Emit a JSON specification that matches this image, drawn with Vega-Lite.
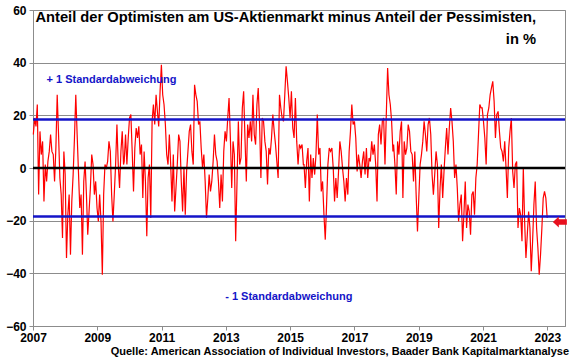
{
  "$schema": "https://vega.github.io/schema/vega-lite/v6.json",
  "width": 532,
  "height": 316,
  "autosize": "none",
  "padding": {"left": 33, "top": 10, "right": 15, "bottom": 33},
  "background": "white",
  "config": {
    "font": "Liberation Sans",
    "view": {"stroke": "#8c8c8c", "strokeWidth": 1}
  },
  "datasets": {
    "spread": [
      {"t":2007.010,"v":12.7},{"t":2007.052,"v":19.0},{"t":2007.093,"v":15.8},{"t":2007.134,"v":24.1},{"t":2007.175,"v":-10.1},{"t":2007.217,"v":13.9},{"t":2007.258,"v":5.1},{"t":2007.299,"v":10.1},{"t":2007.341,"v":-12.7},{"t":2007.382,"v":1.3},{"t":2007.423,"v":-5.1},{"t":2007.464,"v":2.5},{"t":2007.506,"v":6.3},{"t":2007.547,"v":12.7},{"t":2007.588,"v":6.3},{"t":2007.630,"v":5.1},{"t":2007.671,"v":-5.1},{"t":2007.712,"v":7.6},{"t":2007.753,"v":27.8},{"t":2007.795,"v":12.7},{"t":2007.836,"v":-3.8},{"t":2007.877,"v":-10.1},{"t":2007.918,"v":-26.6},{"t":2007.960,"v":6.3},{"t":2008.001,"v":-2.5},{"t":2008.042,"v":-34.2},{"t":2008.084,"v":-17.7},{"t":2008.125,"v":-10.1},{"t":2008.166,"v":-32.9},{"t":2008.207,"v":-12.7},{"t":2008.249,"v":-2.5},{"t":2008.290,"v":11.4},{"t":2008.331,"v":27.8},{"t":2008.373,"v":12.7},{"t":2008.414,"v":-1.3},{"t":2008.455,"v":-15.2},{"t":2008.496,"v":-10.1},{"t":2008.538,"v":-32.9},{"t":2008.579,"v":-5.1},{"t":2008.620,"v":2.5},{"t":2008.662,"v":-10.1},{"t":2008.703,"v":-25.3},{"t":2008.744,"v":-16.5},{"t":2008.785,"v":-7.6},{"t":2008.827,"v":5.1},{"t":2008.868,"v":1.3},{"t":2008.909,"v":-10.1},{"t":2008.950,"v":-5.1},{"t":2008.992,"v":-15.2},{"t":2009.033,"v":-20.3},{"t":2009.074,"v":-10.1},{"t":2009.116,"v":-20.3},{"t":2009.157,"v":-40.5},{"t":2009.198,"v":-10.1},{"t":2009.239,"v":1.3},{"t":2009.281,"v":0},{"t":2009.322,"v":2.5},{"t":2009.363,"v":10.1},{"t":2009.405,"v":6.3},{"t":2009.446,"v":-10.1},{"t":2009.487,"v":-20.3},{"t":2009.528,"v":-10.1},{"t":2009.570,"v":1.3},{"t":2009.611,"v":16.5},{"t":2009.652,"v":1.3},{"t":2009.693,"v":-7.6},{"t":2009.735,"v":6.3},{"t":2009.776,"v":13.9},{"t":2009.817,"v":1.3},
      {"t":2009.838,"v":2.5},{"t":2009.879,"v":12.7},{"t":2009.921,"v":1.3},{"t":2009.962,"v":11.4},{"t":2010.003,"v":19.0},{"t":2010.044,"v":20.3},{"t":2010.086,"v":6.3},{"t":2010.127,"v":-8.9},{"t":2010.168,"v":7.6},{"t":2010.210,"v":15.2},{"t":2010.251,"v":11.4},{"t":2010.292,"v":15.8},{"t":2010.333,"v":5.1},{"t":2010.375,"v":8.9},{"t":2010.416,"v":-11.4},{"t":2010.457,"v":6.3},{"t":2010.498,"v":-5.1},{"t":2010.540,"v":-25.9},{"t":2010.581,"v":-3.8},{"t":2010.622,"v":1.3},{"t":2010.664,"v":-19.0},{"t":2010.705,"v":17.7},{"t":2010.746,"v":24.1},{"t":2010.787,"v":16.5},{"t":2010.829,"v":27.8},{"t":2010.870,"v":21.5},{"t":2010.911,"v":15.8},{"t":2010.953,"v":29.1},{"t":2010.994,"v":39.2},{"t":2011.035,"v":27.8},{"t":2011.076,"v":24.1},{"t":2011.118,"v":16.5},{"t":2011.159,"v":5.1},{"t":2011.200,"v":1.3},{"t":2011.242,"v":12.7},{"t":2011.283,"v":1.3},{"t":2011.324,"v":-12.7},{"t":2011.365,"v":5.1},{"t":2011.407,"v":-16.5},{"t":2011.448,"v":-7.6},{"t":2011.489,"v":1.3},{"t":2011.531,"v":12.7},{"t":2011.572,"v":10.1},{"t":2011.613,"v":-5.1},{"t":2011.654,"v":-16.5},{"t":2011.696,"v":0},{"t":2011.737,"v":-17.7},{"t":2011.778,"v":-1.3},{"t":2011.820,"v":6.3},{"t":2011.861,"v":13.9},{"t":2011.902,"v":16.5},{"t":2011.943,"v":6.3},{"t":2011.985,"v":1.3},{"t":2012.026,"v":31.6},{"t":2012.067,"v":27.8},{"t":2012.108,"v":25.3},{"t":2012.150,"v":16.5},{"t":2012.191,"v":17.7},{"t":2012.232,"v":7.6},{"t":2012.274,"v":0},{"t":2012.315,"v":5.1},{"t":2012.356,"v":-5.1},{"t":2012.397,"v":-19.0},{"t":2012.439,"v":-11.4},{"t":2012.480,"v":-2.5},{"t":2012.521,"v":-8.9},{"t":2012.562,"v":-5.1},{"t":2012.604,"v":2.5},
      {"t":2012.645,"v":12.7},{"t":2012.686,"v":5.1},{"t":2012.728,"v":2.5},{"t":2012.769,"v":-5.1},{"t":2012.810,"v":-15.2},{"t":2012.851,"v":-2.5},{"t":2012.893,"v":-12.7},{"t":2012.934,"v":6.3},{"t":2012.975,"v":13.9},{"t":2013.017,"v":10.1},{"t":2013.058,"v":19.0},{"t":2013.099,"v":26.6},{"t":2013.140,"v":11.4},{"t":2013.182,"v":-7.6},{"t":2013.223,"v":10.1},{"t":2013.264,"v":5.1},{"t":2013.305,"v":-27.8},{"t":2013.347,"v":-5.1},{"t":2013.388,"v":17.7},{"t":2013.429,"v":1.3},{"t":2013.471,"v":3.8},{"t":2013.512,"v":22.8},{"t":2013.553,"v":29.1},{"t":2013.594,"v":11.4},{"t":2013.636,"v":-5.1},{"t":2013.677,"v":16.5},{"t":2013.718,"v":11.4},{"t":2013.760,"v":17.7},{"t":2013.801,"v":10.1},{"t":2013.842,"v":27.8},{"t":2013.883,"v":12.7},{"t":2013.925,"v":8.9},{"t":2013.966,"v":24.1},{"t":2014.007,"v":30.4},{"t":2014.049,"v":16.5},{"t":2014.090,"v":-3.8},{"t":2014.131,"v":19.0},{"t":2014.172,"v":17.7},{"t":2014.214,"v":10.1},{"t":2014.255,"v":6.3},{"t":2014.296,"v":-6.3},{"t":2014.337,"v":7.6},{"t":2014.379,"v":5.1},{"t":2014.420,"v":11.4},{"t":2014.461,"v":20.3},{"t":2014.503,"v":13.9},{"t":2014.544,"v":8.9},{"t":2014.585,"v":2.5},{"t":2014.626,"v":-3.8},{"t":2014.668,"v":27.8},{"t":2014.709,"v":22.8},{"t":2014.750,"v":19.0},{"t":2014.792,"v":17.7},{"t":2014.833,"v":27.8},{"t":2014.874,"v":38.6},{"t":2014.915,"v":32.9},{"t":2014.957,"v":26.6},{"t":2014.998,"v":19.0},{"t":2015.039,"v":29.1},{"t":2015.081,"v":15.2},{"t":2015.122,"v":11.4},{"t":2015.163,"v":26.6},{"t":2015.204,"v":10.1},{"t":2015.246,"v":1.3},{"t":2015.287,"v":8.9},{"t":2015.328,"v":7.6},{"t":2015.370,"v":8.9},{"t":2015.411,"v":1.3},
      {"t":2015.431,"v":1.3},{"t":2015.473,"v":-7.6},{"t":2015.514,"v":2.5},{"t":2015.555,"v":7.6},{"t":2015.597,"v":-12.7},{"t":2015.638,"v":5.1},{"t":2015.679,"v":-3.8},{"t":2015.720,"v":3.8},{"t":2015.762,"v":-2.5},{"t":2015.803,"v":5.1},{"t":2015.844,"v":20.3},{"t":2015.886,"v":5.1},{"t":2015.927,"v":7.6},{"t":2015.968,"v":-8.9},{"t":2016.009,"v":-5.1},{"t":2016.051,"v":-17.7},{"t":2016.092,"v":-27.2},{"t":2016.133,"v":-13.9},{"t":2016.174,"v":1.3},{"t":2016.216,"v":7.6},{"t":2016.257,"v":6.3},{"t":2016.298,"v":7.6},{"t":2016.340,"v":0},{"t":2016.381,"v":-12.7},{"t":2016.422,"v":-3.8},{"t":2016.463,"v":-11.4},{"t":2016.505,"v":-1.3},{"t":2016.546,"v":10.1},{"t":2016.587,"v":6.3},{"t":2016.629,"v":0},{"t":2016.670,"v":-5.1},{"t":2016.711,"v":-12.7},{"t":2016.752,"v":-3.8},{"t":2016.794,"v":-10.1},{"t":2016.835,"v":6.3},{"t":2016.876,"v":13.9},{"t":2016.918,"v":24.1},{"t":2016.959,"v":16.5},{"t":2017.000,"v":17.7},{"t":2017.041,"v":11.4},{"t":2017.083,"v":-1.3},{"t":2017.124,"v":5.1},{"t":2017.165,"v":1.3},{"t":2017.207,"v":-3.8},{"t":2017.248,"v":2.5},{"t":2017.289,"v":6.3},{"t":2017.330,"v":-2.5},{"t":2017.372,"v":7.6},{"t":2017.413,"v":-3.8},{"t":2017.454,"v":3.8},{"t":2017.495,"v":2.5},{"t":2017.537,"v":10.1},{"t":2017.578,"v":5.1},{"t":2017.619,"v":8.9},{"t":2017.661,"v":1.3},{"t":2017.702,"v":-12.7},{"t":2017.743,"v":12.7},{"t":2017.784,"v":16.5},{"t":2017.826,"v":8.9},{"t":2017.867,"v":17.7},{"t":2017.908,"v":19.0},{"t":2017.950,"v":1.3},{"t":2017.991,"v":20.3},{"t":2018.032,"v":38.0},{"t":2018.073,"v":27.8},{"t":2018.115,"v":24.1},{"t":2018.156,"v":17.7},{"t":2018.197,"v":6.3},
      {"t":2018.218,"v":8.9},{"t":2018.259,"v":1.3},{"t":2018.300,"v":-10.1},{"t":2018.342,"v":10.1},{"t":2018.383,"v":5.1},{"t":2018.424,"v":13.9},{"t":2018.465,"v":17.7},{"t":2018.507,"v":-11.4},{"t":2018.548,"v":10.1},{"t":2018.589,"v":5.1},{"t":2018.631,"v":7.6},{"t":2018.672,"v":16.5},{"t":2018.713,"v":13.9},{"t":2018.754,"v":6.3},{"t":2018.796,"v":5.1},{"t":2018.837,"v":-5.1},{"t":2018.878,"v":6.3},{"t":2018.919,"v":-10.1},{"t":2018.961,"v":-24.1},{"t":2019.002,"v":-11.4},{"t":2019.043,"v":1.3},{"t":2019.085,"v":5.1},{"t":2019.126,"v":10.1},{"t":2019.167,"v":17.7},{"t":2019.208,"v":12.7},{"t":2019.250,"v":6.3},{"t":2019.291,"v":16.5},{"t":2019.332,"v":19.0},{"t":2019.374,"v":12.7},{"t":2019.415,"v":-2.5},{"t":2019.456,"v":-10.1},{"t":2019.497,"v":-2.5},{"t":2019.539,"v":6.3},{"t":2019.580,"v":1.3},{"t":2019.621,"v":-22.8},{"t":2019.663,"v":-7.6},{"t":2019.704,"v":1.3},{"t":2019.745,"v":-11.4},{"t":2019.786,"v":-1.3},{"t":2019.828,"v":7.6},{"t":2019.869,"v":15.2},{"t":2019.910,"v":5.1},{"t":2019.951,"v":15.2},{"t":2019.993,"v":22.8},{"t":2020.034,"v":17.7},{"t":2020.075,"v":10.1},{"t":2020.116,"v":-3.8},{"t":2020.158,"v":1.3},{"t":2020.199,"v":-7.6},{"t":2020.240,"v":-20.3},{"t":2020.281,"v":-13.9},{"t":2020.323,"v":-10.1},{"t":2020.364,"v":-27.8},{"t":2020.405,"v":-17.7},{"t":2020.447,"v":-5.1},{"t":2020.488,"v":-22.8},{"t":2020.529,"v":-13.9},{"t":2020.570,"v":-16.5},{"t":2020.612,"v":-25.3},{"t":2020.653,"v":-10.1},{"t":2020.694,"v":-8.9},{"t":2020.735,"v":-17.7},{"t":2020.777,"v":-3.8},{"t":2020.818,"v":1.3},{"t":2020.859,"v":12.7},{"t":2020.900,"v":24.1},{"t":2020.942,"v":22.8},
      {"t":2020.973,"v":22.8},{"t":2021.014,"v":17.7},{"t":2021.056,"v":11.4},{"t":2021.097,"v":1.3},{"t":2021.138,"v":20.3},{"t":2021.180,"v":22.8},{"t":2021.221,"v":27.8},{"t":2021.262,"v":30.4},{"t":2021.303,"v":32.9},{"t":2021.345,"v":25.3},{"t":2021.386,"v":11.4},{"t":2021.427,"v":20.3},{"t":2021.469,"v":21.5},{"t":2021.510,"v":13.9},{"t":2021.551,"v":7.6},{"t":2021.592,"v":6.3},{"t":2021.634,"v":2.5},{"t":2021.675,"v":10.1},{"t":2021.716,"v":0},{"t":2021.757,"v":-11.4},{"t":2021.799,"v":7.6},{"t":2021.840,"v":13.9},{"t":2021.881,"v":19.0},{"t":2021.923,"v":-1.3},{"t":2021.964,"v":-7.6},{"t":2022.005,"v":1.3},{"t":2022.046,"v":2.5},{"t":2022.088,"v":-22.8},{"t":2022.129,"v":-15.2},{"t":2022.170,"v":-17.7},{"t":2022.212,"v":-27.8},{"t":2022.253,"v":0},{"t":2022.294,"v":-20.3},{"t":2022.335,"v":-34.2},{"t":2022.377,"v":-25.3},{"t":2022.418,"v":-16.5},{"t":2022.459,"v":-22.8},{"t":2022.500,"v":-39.2},{"t":2022.542,"v":-27.8},{"t":2022.583,"v":-13.9},{"t":2022.624,"v":-5.1},{"t":2022.666,"v":-22.8},{"t":2022.707,"v":-30.4},{"t":2022.748,"v":-40.5},{"t":2022.789,"v":-32.9},{"t":2022.831,"v":-22.8},{"t":2022.872,"v":-11.4},{"t":2022.913,"v":-8.9},{"t":2022.954,"v":-11.4},{"t":2022.996,"v":-19.0}
    ]
  },
  "layer": [
    {
      "data": {"name": "spread"},
      "mark": {"type": "line", "color": "#ff0000", "strokeWidth": 1.2},
      "encoding": {
        "x": {
          "field": "t", "type": "quantitative",
          "scale": {"domain": [2007, 2023.55], "nice": false, "zero": false},
          "axis": {
            "title": null, "values": [2007, 2009, 2011, 2013, 2015, 2017, 2019, 2021, 2023],
            "format": "d", "grid": false, "labelFontSize": 12, "labelFontWeight": "bold",
            "labelColor": "#000", "domainColor": "#8c8c8c", "tickColor": "#8c8c8c",
            "tickSize": 4, "labelPadding": 2, "labelFlush": false
          }
        },
        "y": {
          "field": "v", "type": "quantitative",
          "scale": {"domain": [-60, 60], "nice": false},
          "axis": {
            "title": null, "values": [-60, -40, -20, 0, 20, 40, 60],
            "grid": true, "gridColor": "#8c8c8c", "gridWidth": 1,
            "labelFontSize": 12, "labelFontWeight": "bold", "labelColor": "#000",
            "domainColor": "#8c8c8c", "tickColor": "#8c8c8c", "tickSize": 4, "labelPadding": 3
          }
        }
      }
    },
    {
      "data": {"values": [{"level": 18.4}, {"level": -18.4}]},
      "mark": {"type": "rule", "color": "#1414c8", "strokeWidth": 2.5},
      "encoding": {"y": {"field": "level", "type": "quantitative"}}
    },
    {
      "data": {"values": [{"level": 0}]},
      "mark": {"type": "rule", "color": "#000000", "strokeWidth": 2.5},
      "encoding": {"y": {"field": "level", "type": "quantitative"}}
    },
    {
      "data": {"values": [{"label": "Anteil der Optimisten am US-Aktienmarkt minus Anteil der Pessimisten,"}]},
      "mark": {"type": "text", "align": "right", "baseline": "middle", "fontSize": 14.7, "fontWeight": "bold", "color": "#000"},
      "encoding": {"x": {"datum": 2022.65}, "y": {"datum": 56.8}, "text": {"field": "label"}}
    },
    {
      "data": {"values": [{"label": "in %"}]},
      "mark": {"type": "text", "align": "right", "baseline": "middle", "fontSize": 14.7, "fontWeight": "bold", "color": "#000"},
      "encoding": {"x": {"datum": 2022.65}, "y": {"datum": 48.6}, "text": {"field": "label"}}
    },
    {
      "data": {"values": [{"label": "+ 1 Standardabweichung"}]},
      "mark": {"type": "text", "align": "left", "baseline": "middle", "fontSize": 11, "fontWeight": "bold", "color": "#1414c8"},
      "encoding": {"x": {"datum": 2007.42}, "y": {"datum": 33.3}, "text": {"field": "label"}}
    },
    {
      "data": {"values": [{"label": "- 1 Standardabweichung"}]},
      "mark": {"type": "text", "align": "left", "baseline": "middle", "fontSize": 11, "fontWeight": "bold", "color": "#1414c8"},
      "encoding": {"x": {"datum": 2012.98}, "y": {"datum": -49}, "text": {"field": "label"}}
    },
    {
      "data": {"values": [{"label": "Quelle: American Association of Individual Investors, Baader Bank Kapitalmarktanalyse"}]},
      "mark": {"type": "text", "align": "right", "baseline": "middle", "fontSize": 11, "fontWeight": "bold", "color": "#000", "dx": 4, "dy": 26},
      "encoding": {"x": {"datum": 2023.55}, "y": {"datum": -60}, "text": {"field": "label"}}
    },
    {
      "data": {"values": [{"marker": "arrow"}]},
      "mark": {"type": "point", "shape": "M -1 0 L -0.15 -0.8 L -0.15 -0.4 L 1 -0.4 L 1 0.4 L -0.15 0.4 L -0.15 0.8 Z", "filled": true, "color": "#e8101e", "opacity": 1, "size": 196},
      "encoding": {"x": {"datum": 2023.39}, "y": {"datum": -20.5}}
    }
  ]
}
